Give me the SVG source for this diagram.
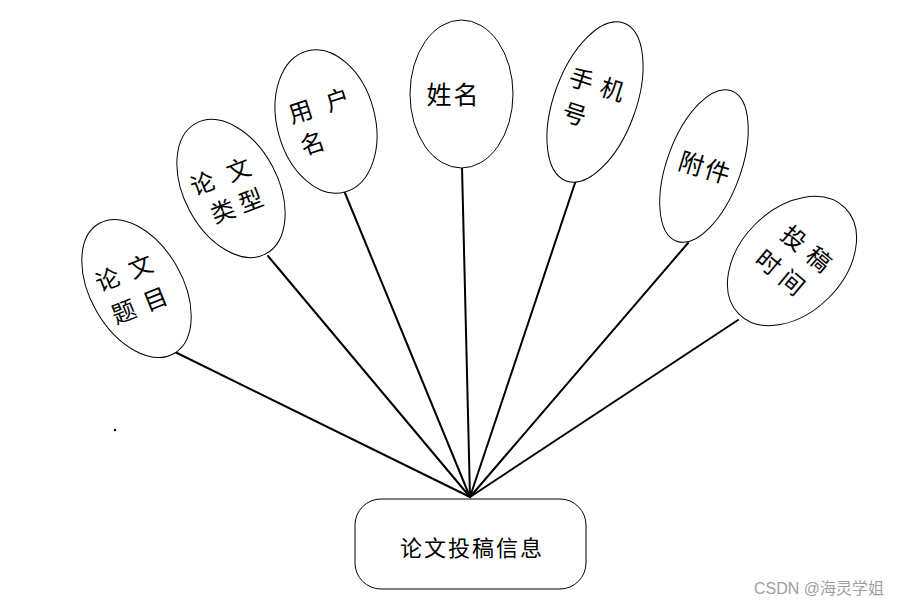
<svg xmlns="http://www.w3.org/2000/svg" width="906" height="605" viewBox="0 0 906 605">
<style>
.bg{fill:#ffffff}
.attr{fill:#ffffff;stroke:#000000;stroke-width:1}
.ent{fill:#ffffff;stroke:#000000;stroke-width:1}
.lk{stroke:#000000;stroke-width:2;fill:none;stroke-linecap:round}
.t{font-family:"Noto Sans CJK SC","Liberation Sans",sans-serif;font-size:24px;fill:#000000;text-anchor:middle;dominant-baseline:central}
.tb{font-family:"Noto Sans CJK SC","Liberation Sans",sans-serif;font-size:22px;fill:#000000;text-anchor:middle;dominant-baseline:central;letter-spacing:2px}
.wm{font-family:"Liberation Sans","Noto Sans CJK SC",sans-serif;font-size:16px;fill:#a0a0a0}
</style>
<rect class="bg" x="0" y="0" width="906" height="605"/>
<g id="connectors">
<line class="lk" x1="173" y1="351" x2="470" y2="497"/>
<line class="lk" x1="268" y1="256" x2="470" y2="497"/>
<line class="lk" x1="345" y1="193" x2="470" y2="497"/>
<line class="lk" x1="462" y1="167" x2="470" y2="497"/>
<line class="lk" x1="576" y1="180" x2="470" y2="497"/>
<line class="lk" x1="688" y1="243" x2="470" y2="497"/>
<line class="lk" x1="738" y1="320" x2="470" y2="497"/>
</g>
<g id="node-lunwentimu">
<ellipse class="attr" cx="0" cy="0" rx="46" ry="75" transform="translate(136.5,288.5) rotate(-30)"/>
<g transform="translate(107,278) rotate(-22)">
<text class="t" x="0 35.5" y="0">论文</text>
<text class="t" x="3 37" y="36">题目</text>
</g>
</g>
<g id="node-lunwenleixing">
<ellipse class="attr" cx="0" cy="0" rx="47" ry="74" transform="translate(231,188.5) rotate(-28)"/>
<g transform="translate(202,182) rotate(-21)">
<text class="t" x="0 38.6" y="0">论文</text>
<text class="t" x="9 39" y="33">类型</text>
</g>
</g>
<g id="node-yonghuming">
<ellipse class="attr" cx="0" cy="0" rx="49" ry="73" transform="translate(326,121.5) rotate(-15)"/>
<g transform="translate(300,110) rotate(-18)">
<text class="t" x="0 38.9" y="0">用户</text>
<text class="t" x="1.5" y="34">名</text>
</g>
</g>
<g id="node-xingming">
<ellipse class="attr" cx="461.5" cy="94" rx="51.5" ry="74"/>
<text class="t" x="439 466" y="93" style="font-size:25px">姓名</text>
</g>
<g id="node-shoujihao">
<ellipse class="attr" cx="0" cy="0" rx="41" ry="84" transform="translate(595,102) rotate(20)"/>
<g transform="translate(582,78) rotate(18)">
<text class="t" x="0 32.6" y="0">手机</text>
<text class="t" x="4" y="35">号</text>
</g>
</g>
<g id="node-fujian">
<ellipse class="attr" cx="0" cy="0" rx="37" ry="80" transform="translate(704,166) rotate(20)"/>
<g transform="translate(692,162) rotate(17)">
<text class="t" x="0 27" y="0" style="font-size:25px">附件</text>
</g>
</g>
<g id="node-tougaoshijian">
<ellipse class="attr" cx="0" cy="0" rx="52" ry="75" transform="translate(792,261) rotate(45)"/>
<g transform="translate(795,237) rotate(40)">
<text class="t" x="0 32.6" y="0">投稿</text>
<text class="t" x="-4 27" y="35">时间</text>
</g>
</g>
<g id="node-lunwentougaoxinxi">
<rect class="ent" x="355" y="499" width="231" height="90" rx="26" ry="26"/>
<text class="tb" x="472" y="546">论文投稿信息</text>
</g>
<circle cx="115" cy="430" r="1.2" fill="#000000"/>
<text class="wm" x="754" y="594">CSDN @海灵学姐</text>
</svg>
